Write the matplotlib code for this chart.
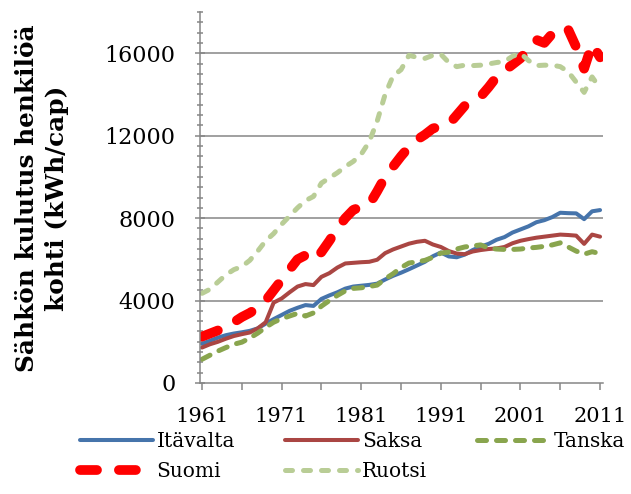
import matplotlib.pyplot as plt
import numpy as np

# ---------------------------------------------
# data: electricity use per capita (kWh/cap)
# ---------------------------------------------
years = np.arange(1961, 2012)

itavalta = [1900, 2050, 2200, 2320, 2400, 2460, 2530, 2650, 2880, 3100,
            3300, 3500, 3650, 3780, 3740, 4080, 4250, 4400, 4580, 4680,
            4720, 4760, 4820, 5020, 5200, 5350, 5520, 5700, 5880, 6150,
            6330, 6140, 6100, 6230, 6450, 6620, 6750, 6950, 7080, 7300,
            7450, 7600, 7800, 7900, 8050, 8260, 8240, 8230, 7950, 8330,
            8390]
saksa = [1720, 1880, 2000, 2150, 2280, 2370, 2450, 2650, 2950, 3900,
         4100, 4400, 4680, 4800, 4750, 5150, 5330, 5600, 5800, 5830,
         5860, 5880, 5980, 6300, 6480, 6620, 6760, 6850, 6900, 6720,
         6600, 6400, 6280, 6250, 6380, 6450, 6500, 6530, 6600, 6780,
         6900, 6980, 7050, 7100, 7150, 7200, 7180, 7150, 6750, 7200,
         7100]
tanska = [1150, 1350, 1550, 1720, 1880, 1980, 2180, 2420, 2700, 2950,
          3120, 3250, 3380, 3250, 3400, 3730, 4000, 4250, 4470, 4590,
          4620, 4680, 4750, 5050, 5300, 5600, 5820, 5880, 5950, 6100,
          6300, 6350, 6500, 6600, 6650, 6700, 6550, 6500, 6480, 6480,
          6500, 6550, 6580, 6630, 6700, 6800, 6600, 6400, 6250, 6370,
          6280]
suomi = [2250, 2400, 2550, 2650, 2950, 3200, 3400, 3650, 4000, 4500,
         5000, 5500, 6000, 6200, 5950, 6350, 6900, 7500, 8000, 8400,
         8550, 8650, 9300, 10000, 10500, 11000, 11450, 11800, 12050, 12350,
         12450, 12550, 13000, 13450, 13700, 13900, 14350, 14850, 15150, 15450,
         15750, 16200, 16650, 16500, 16950, 17250, 17150, 16300, 15250, 16450,
         15800]
ruotsi = [4350, 4550, 4900, 5250, 5500, 5650, 5950, 6400, 6900, 7250,
          7700, 8100, 8500, 8850, 9050, 9700, 9950, 10200, 10500, 10750,
          11100, 11700, 12700, 14000, 14900, 15200, 15900, 15800, 15750, 15900,
          15950, 15550, 15350, 15420, 15400, 15420, 15480, 15550, 15600, 15850,
          16000, 15650, 15400, 15420, 15420, 15350, 15100, 14600, 14100, 14850,
          14300]

label_years = [1961, 1971, 1981, 1991, 2001, 2011]
ytick_vals = [0, 4000, 8000, 12000, 16000]

GRAY = '#868686'
SERIF = 'DejaVu Serif'

fig = plt.figure(figsize=(6.31, 4.94), dpi=100)
ax = fig.add_axes([0.317, 0.2247, 0.639, 0.751])

l_ita, = ax.plot(years, itavalta, color='#4674AB', lw=2.9,
                 solid_joinstyle='round', solid_capstyle='round', label='Itävalta')
l_sak, = ax.plot(years, saksa, color='#AA4643', lw=2.9,
                 solid_joinstyle='round', solid_capstyle='round', label='Saksa')
l_tan, = ax.plot(years, tanska, color='#89A54E', lw=3.6, dashes=(1.8, 2.0),
                 dash_capstyle='round', dash_joinstyle='round', label='Tanska')
l_suo, = ax.plot(years, suomi, color='#FF0000', lw=7, dashes=(1.75, 2.25),
                 dash_capstyle='round', dash_joinstyle='round', label='Suomi')
l_ruo, = ax.plot(years, ruotsi, color='#B9CD96', lw=3.6, dashes=(1.4, 2.2),
                 dash_capstyle='round', dash_joinstyle='round', label='Ruotsi')

# axes limits / ticks (Excel-like)
ax.set_xlim(1960.75, 2011.4)
ax.set_ylim(0, 18000)

ax.set_yticks(ytick_vals)
ax.set_yticks(np.arange(0, 18001, 500), minor=True)
ax.set_xticks(np.arange(1961, 2012, 5))
ax.set_xticklabels([str(y) if y in label_years else '' for y in range(1961, 2012, 5)])

ax.tick_params(axis='y', which='major', direction='inout', length=7, width=1.1,
               color=GRAY, pad=14, labelsize=16)
ax.tick_params(axis='y', which='minor', direction='inout', length=5, width=1.1,
               color=GRAY)
ax.tick_params(axis='x', which='major', direction='out', length=5, width=1.1,
               color=GRAY, pad=12, labelsize=15)
for lab in ax.get_xticklabels() + ax.get_yticklabels():
    lab.set_fontfamily(SERIF)

for y in ytick_vals[1:]:
    ax.axhline(y, color=GRAY, lw=1.1, zorder=0)

for side in ['top', 'right']:
    ax.spines[side].set_visible(False)
for side in ['left', 'bottom']:
    ax.spines[side].set_color(GRAY)
    ax.spines[side].set_linewidth(1.1)

fig.text(42 / 631, 1 - 198 / 494, 'Sähkön kulutus henkilöä\nkohti (kWh/cap)',
         rotation=90, ha='center', va='center', multialignment='center',
         fontsize=17.8, fontweight='bold', family=SERIF, linespacing=1.27)

# legend: column-major order gives rows Itävalta/Saksa/Tanska, Suomi/Ruotsi
fig.legend([l_ita, l_suo, l_sak, l_ruo, l_tan],
           ['Itävalta', 'Suomi', 'Saksa', 'Ruotsi', 'Tanska'],
           ncol=3, loc='upper left', bbox_to_anchor=(80 / 631, 1 - 432 / 494),
           frameon=False, borderpad=0, borderaxespad=0,
           handlelength=3.6, handletextpad=0.2, columnspacing=2.5,
           labelspacing=0.55, prop={'family': SERIF, 'size': 14.5})

plt.savefig('out.png', dpi=100)
